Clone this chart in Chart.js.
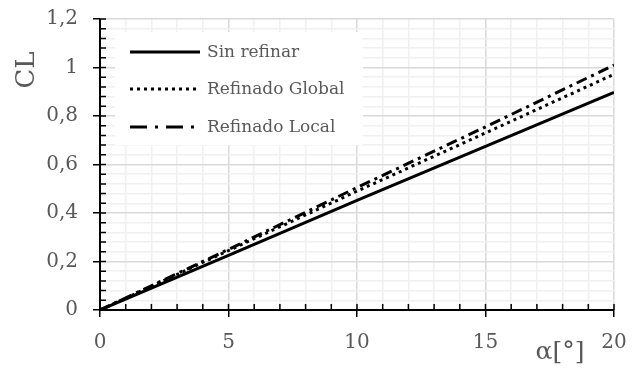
<!DOCTYPE html>
<html>
<head>
<meta charset="utf-8">
<script src="https://cdn.jsdelivr.net/npm/chart.js@4/dist/chart.umd.min.js"></script>
<style>
  html, body { margin: 0; padding: 0; background: #fff; }
  #wrap { width: 638px; height: 370px; position: relative; }
</style>
</head>
<body>
<div id="wrap"><canvas id="chart"></canvas></div>
<script>
// ── DATA ──────────────────────────────────────────────────────────────────────
const alpha        = [0, 5, 10, 15, 20];
const sinRefinar   = [0, 0.225, 0.452, 0.675, 0.897];
const refGlobal    = [0, 0.245, 0.490, 0.730, 0.972];
const refLocal     = [0, 0.250, 0.505, 0.755, 1.010];
const seriesNames  = ['Sin refinar', 'Refinado Global', 'Refinado Local'];

const FONT = "'DejaVu Serif', serif";
const TXT = '#595959';

const pts = ys => alpha.map((x, i) => ({ x, y: ys[i] }));
const isMajor = (v, step) => Math.abs(v / step - Math.round(v / step)) < 1e-6;

const dashes = [[], [3, 4], [11, 5, 3, 5]];
const legendDashes = [[], [3, 4], [17, 8, 3, 8]];

// ── PLUGINS ───────────────────────────────────────────────────────────────────
const extras = {
  id: 'extras',
  afterDatasetsDraw(chart) {
    const { ctx, chartArea: a, scales: { x, y } } = chart;
    ctx.save();
    // inner tick marks + axis lines
    ctx.strokeStyle = '#000';
    ctx.lineWidth = 1.5;
    ctx.beginPath();
    x.ticks.forEach(t => {
      const px = x.getPixelForValue(t.value);
      ctx.moveTo(px, a.bottom); ctx.lineTo(px, a.bottom - 6);
    });
    y.ticks.forEach(t => {
      const py = y.getPixelForValue(t.value);
      ctx.moveTo(a.left, py); ctx.lineTo(a.left + 6, py);
    });
    ctx.stroke();
    ctx.lineWidth = 2;
    ctx.beginPath();
    ctx.moveTo(a.left, a.top); ctx.lineTo(a.left, a.bottom); ctx.lineTo(a.right, a.bottom);
    ctx.stroke();

    // legend
    ctx.fillStyle = '#fff';
    ctx.fillRect(115, 32, 248, 113);
    const rows = [52, 89, 127];
    seriesNames.forEach((name, i) => {
      ctx.strokeStyle = '#000';
      ctx.lineWidth = 3;
      ctx.setLineDash(legendDashes[i]);
      ctx.beginPath();
      ctx.moveTo(130, rows[i]); ctx.lineTo(200, rows[i]);
      ctx.stroke();
      ctx.setLineDash([]);
      ctx.fillStyle = TXT;
      ctx.font = '17px ' + FONT;
      ctx.textAlign = 'left';
      ctx.textBaseline = 'middle';
      ctx.fillText(name, 207, rows[i] + 1);
    });

    // axis titles
    ctx.fillStyle = TXT;
    ctx.font = '25px ' + FONT;
    ctx.textAlign = 'center';
    ctx.textBaseline = 'middle';
    ctx.fillText('α[°]', 560, 352);
    ctx.save();
    ctx.translate(27, 70);
    ctx.rotate(-Math.PI / 2);
    ctx.font = '26px ' + FONT;
    ctx.fillText('CL', 0, 0);
    ctx.restore();
    ctx.restore();
  }
};

// ── CHART ─────────────────────────────────────────────────────────────────────
new Chart(document.getElementById('chart'), {
  type: 'scatter',
  data: {
    datasets: [sinRefinar, refGlobal, refLocal].map((ys, i) => ({
      label: seriesNames[i],
      data: pts(ys),
      showLine: true,
      borderColor: '#000',
      backgroundColor: '#000',
      borderWidth: 3,
      borderDash: dashes[i],
      pointRadius: 0,
      tension: 0
    }))
  },
  options: {
    responsive: true,
    maintainAspectRatio: false,
    animation: false,
    layout: { autoPadding: false, padding: { left: 0, right: 24, top: 19, bottom: 0 } },
    plugins: {
      legend: { display: false },
      tooltip: { enabled: false }
    },
    scales: {
      x: {
        type: 'linear',
        min: 0, max: 20,
        afterFit: s => { s.height = 60; s.paddingLeft = 0; s.paddingRight = 0; },
        ticks: {
          stepSize: 1,
          autoSkip: false,
          maxRotation: 0,
          color: TXT,
          font: { family: FONT, size: 20 },
          padding: 14,
          callback: v => isMajor(v, 5) ? String(v) : ''
        },
        grid: {
          color: c => isMajor(c.tick.value, 5) ? '#d9d9d9' : '#f0f0f0',
          lineWidth: 1.5,
          tickLength: 7,
          tickColor: c => isMajor(c.tick.value, 5) ? '#000' : 'rgba(0,0,0,0)',
          tickWidth: 1.5
        },
        border: { display: false }
      },
      y: {
        type: 'linear',
        min: 0, max: 1.2,
        afterFit: s => { s.width = 100; s.paddingTop = 0; s.paddingBottom = 0; },
        ticks: {
          stepSize: 0.04,
          autoSkip: false,
          color: TXT,
          font: { family: FONT, size: 20 },
          padding: 15,
          callback: v => isMajor(v, 0.2) ? String(+v.toFixed(1)).replace('.', ',') : ''
        },
        grid: {
          color: c => isMajor(c.tick.value, 0.2) ? '#d9d9d9' : '#f0f0f0',
          lineWidth: 1.5,
          tickLength: 7,
          tickColor: c => isMajor(c.tick.value, 0.2) ? '#000' : 'rgba(0,0,0,0)',
          tickWidth: 1.5
        },
        border: { display: false }
      }
    }
  },
  plugins: [extras]
});
</script>
</body>
</html>
